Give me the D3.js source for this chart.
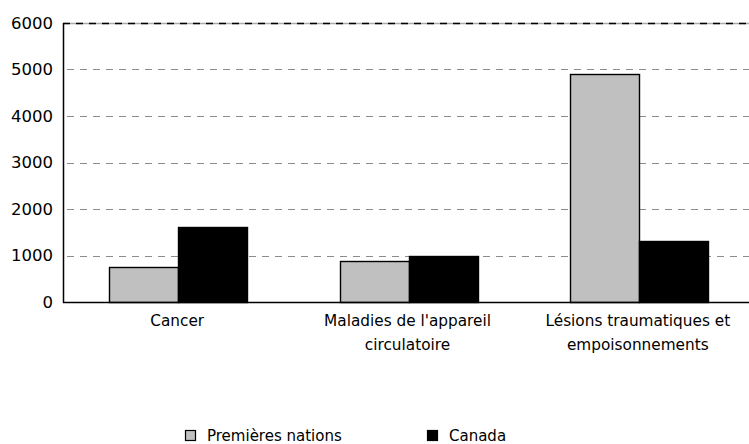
<!DOCTYPE html>
<html>
<head>
<meta charset="utf-8">
<script src="https://cdn.jsdelivr.net/npm/d3@7"></script>
<style>
  body { margin: 0; background: #fff; }
</style>
</head>
<body>
<div id="chart"></div>
<script>
var width = 749;
var height = 444;

var categories = ["Cancer", "Maladies de l'appareil circulatoire", "Lésions traumatiques et empoisonnements"];
var categoryLines = [["Cancer"], ["Maladies de l'appareil", "circulatoire"], ["Lésions traumatiques et", "empoisonnements"]];
var seriesNames = ["Premières nations", "Canada"];
var premieresNations = [760, 880, 4900];
var canada = [1610, 1000, 1310];
var yTicks = [0, 1000, 2000, 3000, 4000, 5000, 6000];
var seriesColors = ["#c0c0c0", "#000000"];

var fontFam = "DejaVu Sans, Verdana, sans-serif";
var left = 63;

var svg = d3.select("#chart")
    .append("svg")
    .attr("width", width)
    .attr("height", height)

var g = svg.append("g")

var x = d3.scaleBand()
    .domain(categories)
    .range([left, 754])
    .paddingInner(0)
    .paddingOuter(0)

var xs = d3.scaleBand()
    .domain(seriesNames)
    .range([0, x.bandwidth()])
    .paddingOuter(0.67)
    .paddingInner(0)

var y = d3.scaleLinear()
    .domain([0, 6000])
    .range([302, 23])

// gridlines
yTicks.forEach(function (t) {
    if (t == 0) return;
    if (t == 6000) {
        g.append("line")
            .attr("x1", left).attr("x2", width)
            .attr("y1", y(t) + 0.5).attr("y2", y(t) + 0.5)
            .attr("stroke", "#aaa")
            .attr("stroke-width", 1.4)
        g.append("line")
            .attr("x1", left).attr("x2", width)
            .attr("y1", y(t) + 0.5).attr("y2", y(t) + 0.5)
            .attr("stroke", "#000")
            .attr("stroke-width", 1.4)
            .style("stroke-dasharray", "7,6")
        return;
    }
    g.append("line")
        .attr("x1", left + 4).attr("x2", width)
        .attr("y1", Math.round(y(t)) + 0.5).attr("y2", Math.round(y(t)) + 0.5)
        .attr("stroke", "#8c8c8c")
        .attr("stroke-width", 1.2)
        .style("stroke-dasharray", "7,6")
})

// bars
var allSeries = [premieresNations, canada];
allSeries.forEach(function (values, s) {
    categories.forEach(function (c, i) {
        g.append("rect")
            .attr("x", Math.round(x(c) + xs(seriesNames[s])) + 0.5)
            .attr("y", Math.round(y(values[i])) + 0.5)
            .attr("width", Math.round(xs.bandwidth()))
            .attr("height", Math.round(y(0) - y(values[i])))
            .attr("fill", seriesColors[s])
            .attr("stroke", "#000")
            .attr("stroke-width", 1.4)
    })
})

// axes
g.append("line")
    .attr("x1", left + 0.5).attr("x2", left + 0.5)
    .attr("y1", y(6000)).attr("y2", y(0) + 1)
    .attr("stroke", "#000")
    .attr("stroke-width", 1.5)

g.append("line")
    .attr("x1", left).attr("x2", width)
    .attr("y1", y(0) + 0.5).attr("y2", y(0) + 0.5)
    .attr("stroke", "#000")
    .attr("stroke-width", 1.5)

// y tick labels
g.selectAll(".ytick")
    .data(yTicks)
    .enter()
    .append("text")
    .attr("x", 53)
    .attr("y", function (d) { return y(d) + 5.5; })
    .attr("text-anchor", "end")
    .attr("font-family", fontFam)
    .attr("font-size", 16.5)
    .style("fill", "#000")
    .text(function (d) { return d; })

// x labels
categories.forEach(function (c, i) {
    categoryLines[i].forEach(function (line, k) {
        g.append("text")
            .attr("x", x(c) + x.bandwidth() / 2 - 1)
            .attr("y", 326 + k * 24)
            .attr("text-anchor", "middle")
            .attr("font-family", fontFam)
            .attr("font-size", 15.3)
            .style("fill", "#000")
            .text(line)
    })
})

// legend
var legendX = [185, 427];
seriesNames.forEach(function (n, s) {
    g.append("rect")
        .attr("x", legendX[s] + 0.5)
        .attr("y", 430.5)
        .attr("width", 10)
        .attr("height", 10)
        .attr("fill", seriesColors[s])
        .attr("stroke", "#000")
        .attr("stroke-width", 1.2)
    g.append("text")
        .attr("x", legendX[s] + 22)
        .attr("y", 441)
        .attr("font-family", fontFam)
        .attr("font-size", 15)
        .style("fill", "#000")
        .text(n)
})
</script>
</body>
</html>
